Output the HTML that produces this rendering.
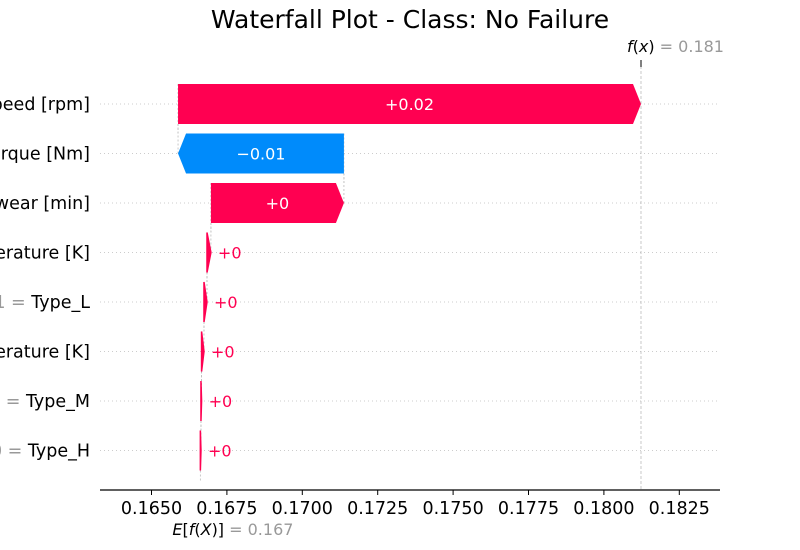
<!DOCTYPE html>
<html><head><meta charset="utf-8"><style>
body{margin:0;background:#fff}
svg{display:block;font-family:"DejaVu Sans","Liberation Sans",sans-serif}
</style></head><body>
<svg id="chart" width="800" height="550" viewBox="0 0 800 550">
<text x="410" y="28" text-anchor="middle" font-size="25" fill="#000">Waterfall Plot - Class: No Failure</text>
<g id="grid"></g><g id="conn"></g><g id="bars"></g><g id="labels"></g><g id="axis"></g>
</svg>
<script>
const features = ["Rotational speed [rpm]","Torque [Nm]","Tool wear [min]","Process temperature [K]","Type_L","Air temperature [K]","Type_M","Type_H"];
const featureValues = ["1","40","200","310","1","300","0","0"];
const shapValues = [0.01535, -0.0055, 0.00441, 0.00013, 0.0001, 0.00008, 0.00002, 0.00002];
const valueLabels = ["+0.02","\u22120.01","+0","+0","+0","+0","+0","+0"];
const baseValue = 0.16662;
const tickValues = [0.165,0.1675,0.17,0.1725,0.175,0.1775,0.18,0.1825];
const tickLabels = ["0.1650","0.1675","0.1700","0.1725","0.1750","0.1775","0.1800","0.1825"];

const NS="http://www.w3.org/2000/svg";
const X=v=>151.5+(v-0.165)/0.0025*75.4;
const Y=i=>104+i*49.5;
function mk(tag,attrs,parent,txt){const e=document.createElementNS(NS,tag);for(const k in attrs)e.setAttribute(k,attrs[k]);if(txt!==undefined)e.textContent=txt;document.getElementById(parent).appendChild(e);return e;}
const n=features.length;
const starts=[];let acc=baseValue;
for(let i=n-1;i>=0;i--){starts[i]=acc;acc+=shapValues[i];}
const fx=acc;
for(let i=0;i<n;i++){
  const y=Y(i);
  const g=mk('line',{x1:100,x2:720,y1:y,y2:y,stroke:'#ccc','stroke-width':1,'stroke-dasharray':'1,3'},'grid');
  
  
  const x0=X(starts[i]),x1=X(starts[i]+shapValues[i]);
  const pos=shapValues[i]>=0;const col=pos?'#ff0051':'#008bfb';
  const w=Math.abs(x1-x0);const hd=Math.min(8,w);const d=pos?1:-1;
  const top=y-20,bot=y+20;
  const pts=[[x0,top],[x1-d*hd,top],[x1,y],[x1-d*hd,bot],[x0,bot]].map(p=>p.join(',')).join(' ');
  const p=mk('polygon',{points:pts,fill:col,stroke:col,'stroke-width':w<5?1.5:0},'bars');
  
  
  if(w>60){
    const t=mk('text',{x:(x0+x1)/2,y:y+6,'text-anchor':'middle','font-size':16,fill:'#fff'},'bars',valueLabels[i]);
    
    
  }else{
    const t=mk('text',{x:Math.max(x0,x1)+7,y:y+6,'font-size':16,fill:col},'bars',valueLabels[i]);
    
    
  }
  const ct=mk('line',{x1:x0,x2:x0,y1:y-20,y2:(i<n-1?y+29.5:y+30),stroke:'#bbb','stroke-width':0.8,'stroke-dasharray':'2,2'},'conn');
  const ct2=mk('line',{x1:x1,x2:x1,y1:y,y2:(i===0?y:y-29.5),stroke:'#bbb','stroke-width':0.8,'stroke-dasharray':'2,2'},'conn');
  
  
  
  
  const lab=mk('text',{x:90,y:y+6,'text-anchor':'end','font-size':17.5,fill:'#000'},'labels');
  
  
  const s1=document.createElementNS(NS,'tspan');s1.setAttribute('fill','#999');s1.textContent=featureValues[i]+' = ';lab.appendChild(s1);
  const s2=document.createElementNS(NS,'tspan');s2.textContent=features[i];lab.appendChild(s2);
}
const fxl=mk('line',{x1:X(fx),x2:X(fx),y1:66,y2:490,stroke:'#bbb','stroke-width':0.8,'stroke-dasharray':'3,2'},'conn');

mk('line',{x1:X(fx),x2:X(fx),y1:60,y2:67,stroke:'#000','stroke-width':1},'conn');
const ft=mk('text',{x:X(fx)-14,y:52,'font-size':16},'axis');

ft.innerHTML='<tspan font-style="italic">f</tspan>(<tspan font-style="italic">x</tspan>)<tspan fill="#999"> = '+fx.toFixed(3)+'</tspan>';
const ax=mk('line',{x1:100,x2:720,y1:490,y2:490,stroke:'#000','stroke-width':1.2},'axis');

tickValues.forEach((v,k)=>{
  const tk=mk('line',{x1:X(v),x2:X(v),y1:490,y2:495,stroke:'#000'},'axis');
  
  const tl=mk('text',{x:X(v),y:514,'text-anchor':'middle','font-size':17.5},'axis',tickLabels[k]);
  
});
const et=mk('text',{x:X(baseValue)-28,y:535,'font-size':16},'axis');

et.innerHTML='<tspan font-style="italic">E</tspan>[<tspan font-style="italic">f</tspan>(<tspan font-style="italic">X</tspan>)]<tspan fill="#999"> = '+baseValue.toFixed(3)+'</tspan>';
</script>
</body></html>
